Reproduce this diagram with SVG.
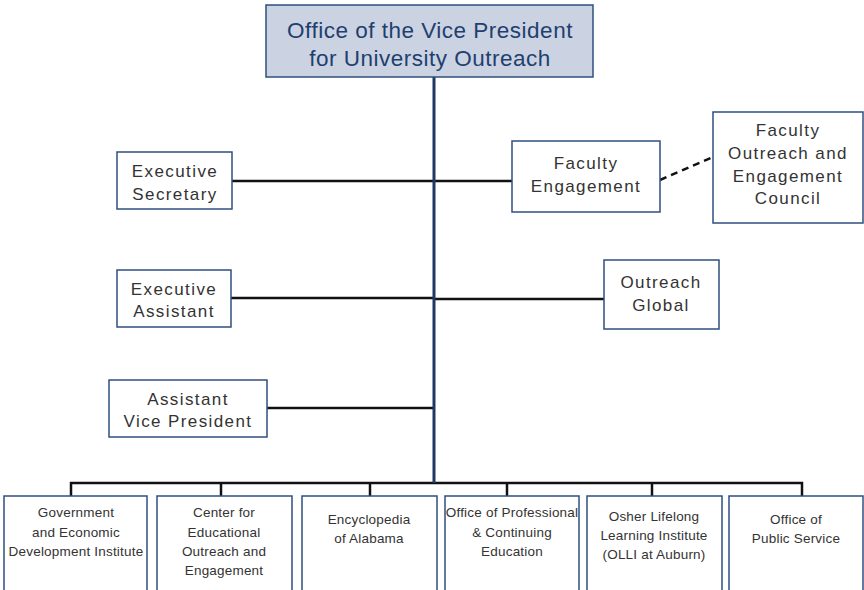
<svg xmlns="http://www.w3.org/2000/svg" width="864" height="590" viewBox="0 0 864 590">
<style>
.box{fill:#ffffff;stroke:#2f4f7f;stroke-width:1.5}
.top{fill:#cbd3e3;stroke:#2f4f7f;stroke-width:1.5}
.t{font-family:"Liberation Sans",Arial,sans-serif;font-size:17px;letter-spacing:1.4px;fill:#333333;text-anchor:middle}
.s{font-family:"Liberation Sans",Arial,sans-serif;font-size:13.5px;letter-spacing:0.2px;fill:#333333;text-anchor:middle}
.h{font-family:"Liberation Sans",Arial,sans-serif;font-size:22.5px;letter-spacing:0.5px;fill:#1f3f6e;text-anchor:middle}
.c{stroke:#111111;stroke-width:2.5;fill:none}
.spine{stroke:#1f3864;stroke-width:3;fill:none}
.d{stroke:#111111;stroke-width:2.5;fill:none;stroke-dasharray:7,5}
</style>
<g id="connectors">
<line class="c" x1="232" y1="181" x2="512" y2="181"/>
<line class="d" x1="660" y1="180" x2="713" y2="157"/>
<line class="c" x1="231" y1="298" x2="434" y2="298"/>
<line class="c" x1="434" y1="299" x2="604" y2="299"/>
<line class="c" x1="267" y1="408" x2="434" y2="408"/>
<polyline class="c" points="71,496 71,483 802,483 802,496"/>
<line class="c" x1="221" y1="483" x2="221" y2="496"/>
<line class="c" x1="370" y1="483" x2="370" y2="496"/>
<line class="c" x1="507" y1="483" x2="507" y2="496"/>
<line class="c" x1="652" y1="483" x2="652" y2="496"/>
<line class="spine" x1="434" y1="77" x2="434" y2="483"/>
</g>
<g id="vp">
<rect class="top" x="266" y="5" width="327" height="72"/>
<text class="h" x="430" y="38">Office of the Vice President</text>
<text class="h" x="430" y="66">for University Outreach</text>
</g>
<g id="exec-secretary">
<rect class="box" x="117" y="152" width="115" height="57"/>
<text class="t" x="175" y="177">Executive</text>
<text class="t" x="175" y="200">Secretary</text>
</g>
<g id="faculty-engagement">
<rect class="box" x="512" y="141" width="148" height="71"/>
<text class="t" x="586" y="169">Faculty</text>
<text class="t" x="586" y="192">Engagement</text>
</g>
<g id="council">
<rect class="box" x="713" y="112" width="150" height="111"/>
<text class="t" x="788" y="136">Faculty</text>
<text class="t" x="788" y="159">Outreach and</text>
<text class="t" x="788" y="182">Engagement</text>
<text class="t" x="788" y="204">Council</text>
</g>
<g id="exec-assistant">
<rect class="box" x="117" y="270" width="114" height="57"/>
<text class="t" x="174" y="295">Executive</text>
<text class="t" x="174" y="317">Assistant</text>
</g>
<g id="outreach-global">
<rect class="box" x="604" y="260" width="115" height="69"/>
<text class="t" x="661" y="288">Outreach</text>
<text class="t" x="661" y="311">Global</text>
</g>
<g id="avp">
<rect class="box" x="109" y="380" width="158" height="57"/>
<text class="t" x="188" y="405">Assistant</text>
<text class="t" x="188" y="427">Vice President</text>
</g>
<g id="gedi">
<rect class="box" x="4" y="496" width="143" height="96"/>
<text class="s" x="76" y="517">Government</text>
<text class="s" x="76" y="537">and Economic</text>
<text class="s" x="76" y="556">Development Institute</text>
</g>
<g id="ceoe">
<rect class="box" x="157" y="496" width="135" height="96"/>
<text class="s" x="224" y="517">Center for</text>
<text class="s" x="224" y="537">Educational</text>
<text class="s" x="224" y="556">Outreach and</text>
<text class="s" x="224" y="575">Engagement</text>
</g>
<g id="encyclopedia">
<rect class="box" x="302" y="496" width="135" height="96"/>
<text class="s" x="369" y="524">Encyclopedia</text>
<text class="s" x="369" y="543">of Alabama</text>
</g>
<g id="opce">
<rect class="box" x="445" y="496" width="134" height="96"/>
<text class="s" x="512" y="517">Office of Professional</text>
<text class="s" x="512" y="537">&amp; Continuing</text>
<text class="s" x="512" y="556">Education</text>
</g>
<g id="olli">
<rect class="box" x="587" y="496" width="135" height="96"/>
<text class="s" x="654" y="521">Osher Lifelong</text>
<text class="s" x="654" y="540">Learning Institute</text>
<text class="s" x="654" y="559">(OLLI at Auburn)</text>
</g>
<g id="ops">
<rect class="box" x="729" y="496" width="134" height="96"/>
<text class="s" x="796" y="524">Office of</text>
<text class="s" x="796" y="543">Public Service</text>
</g>
</svg>
